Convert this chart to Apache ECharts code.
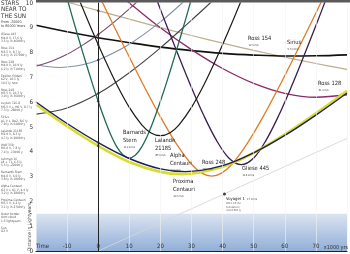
<!DOCTYPE html>
<html><head><meta charset="utf-8">
<script src="https://cdn.jsdelivr.net/npm/echarts@6/dist/echarts.min.js"></script>
<style>html,body{margin:0;padding:0;background:#fff}#c{width:350px;height:254px}</style>
</head><body><div id="c"></div>
<script>
// time in 1000 years, distance in light years
const xTicks = ['Time','-10','0','10','20','30','40','50','60','70','x1000 yrs'];
const sirius = [[-20,9.10],[-10,8.84],[0,8.60],[10,8.40],[20,8.22],[30,8.08],[40,7.97],[50,7.90],[60,7.86],[70,7.87],[80,7.91]];
const ross154 = [[-12,10.10],[-8,9.97],[0,9.69],[10,9.35],[20,9.01],[30,8.69],[40,8.38],[50,8.09],[60,7.82],[70,7.56],[80,7.32]];
const ross128 = [[5,10.48],[10,10.0],[20,9.0],[30,8.12],[40,7.36],[50,6.76],[60,6.36],[70,6.20],[80,6.30]];
const ross248 = [[0,10.38],[5,9.08],[10,7.82],[15,6.58],[20,5.41],[25,4.35],[30,3.50],[33.5,3.13],[36.5,3.02],[39.5,3.13],[43,3.50],[48,4.35],[53,5.41],[58,6.58],[63,7.82],[68,9.08],[73,10.38]];
const gliese445 = [[18,10.4],[22,9.09],[26,7.82],[30,6.59],[34,5.45],[38,4.47],[42,3.75],[46,3.48],[50,3.75],[54,4.47],[58,5.45],[62,6.59],[66,7.82],[70,9.09],[74,10.4]];
const barnard = [[-10,10.18],[-8,9.30],[-5,8.02],[-2,6.80],[0,6.04],[2,5.33],[4,4.70],[6,4.20],[8,3.87],[10,3.75],[12,3.87],[14,4.20],[16,4.70],[18,5.33],[20,6.04],[22,6.80],[25,8.02],[28,9.30],[30,10.18]];
const lalande = [[-6,10.1],[-2,8.9],[2,7.76],[6,6.70],[10,5.79],[14,5.09],[17,4.76],[20,4.65],[23,4.76],[26,5.09],[30,5.79],[34,6.70],[38,7.76],[42,8.9],[46,10.1]];
const alphaCen = [[-20,6.01],[-10,5.14],[0,4.37],[10,3.73],[20,3.31],[28,3.20],[40,3.44],[50,3.96],[60,4.66],[70,5.48],[80,6.37]];
const proxima = [[-20,5.91],[-10,5.03],[0,4.24],[10,3.59],[20,3.19],[27,3.10],[40,3.40],[50,3.96],[60,4.70],[70,5.55],[80,6.46]];
const wolf359 = [[-20,7.51],[-12.6,7.40],[-5,7.51],[0,7.70],[10,8.34],[20,9.24],[27,10.0],[30,10.35]];
const luyten = [[-20,7.45],[-15,7.65],[-10,7.93],[-5,8.30],[0,8.73],[5,9.22],[10,9.76],[15,10.35]];
const luhman = [[-20,5.52],[-10,5.77],[0,6.35],[10,7.19],[20,8.19],[30,9.31],[36,10.0],[40,10.5]];
const voyager = [[0,0],[40,2.27],[80,4.54]];
const voyagerNow = [[40.6,2.30]];
const today = [[0,9.69],[0,8.73],[0,8.60],[0,8.32],[0,7.70],[0,6.35],[0,6.04],[0,4.37],[0,4.24]];
const oortBorder = 1.5;

const legendEntries = [
 ['Gliese 445','M4.0 V, 17.6 ly','3.5 ly in 46000 y'],
 ['Ross 154','M3.5 V, 9.7 ly','6.4 ly in 157000 y'],
 ['Ross 128','M4.0 V, 10.9 ly','6.2 ly in 71000 y'],
 ['Epsilon Eridani','K2 V, 10.5 ly','10.5 ly now'],
 ['Ross 248','M5.5 V, 10.3 ly','3.0 ly in 36000 y'],
 ['Luyten 726-8','M5.5 V + M6 V, 8.7 ly','7.3 ly -28000 y'],
 ['Sirius','A1 V + DA2, 8.6 ly','7.9 ly in 64000 y'],
 ['Lalande 21185','M2.0 V, 8.3 ly','4.7 ly in 20000 y'],
 ['Wolf 359','M6.0 V, 7.8 ly','7.4 ly -13000 y'],
 ['Luhman 16','L8 + T1, 6.5 ly','5.5 ly -22000 y'],
 ['Barnards Stern','M4.0 V, 6.0 ly','3.8 ly in 10000 y'],
 ['Alpha Centauri','G2 V + K1 V, 4.4 ly','3.2 ly in 28000 y'],
 ['Proxima Centauri','M5.5 V, 4.2 ly','3.1 ly in 27000 y'],
 ['Outer border','Oort cloud','1.5 lightyears'],
 ['Sun','G2 V','']
];
const titleLines = ['STARS','NEAR TO','THE SUN'];
const subTitleLines = ['From -20000','to 80000 Years'];
const starLabels = [
 {name:['Ross 154'], sub:'12 km/s', at:[248,36]},
 {name:['Sirius'], sub:'5.5 km/s', at:[287,40]},
 {name:['Ross 128'], sub:'31 km/s', at:[318,81]},
 {name:['Barnards','Stern'], sub:'110 km/s', at:[123,130]},
 {name:['Lalande','21185'], sub:'85 km/s', at:[155,138]},
 {name:['Alpha','Centauri'], sub:'22 km/s', at:[170,153]},
 {name:['Proxima','Centauri'], sub:'22 km/s', at:[173,179]},
 {name:['Ross 248'], sub:'78 km/s', at:[202,160]},
 {name:['Gliese 445'], sub:'119 km/s', at:[242,166]}
];

const FONT = '"Liberation Sans Narrow","DejaVu Sans Condensed","Liberation Sans",sans-serif';
const chart = echarts.init(document.getElementById('c'), null, {renderer:'canvas'});

function line(name, data, color, width, z){
  return {name, type:'line', data, smooth:0.35, showSymbol:false, clip:true, z:z||3,
    lineStyle:{color, width}, emphasis:{disabled:true}, silent:true};
}

const graphic = [];
graphic.push({type:'rect', shape:{x:36,y:0,width:314,height:2.5}, style:{fill:'#5a5a5a'}, z:50});
titleLines.forEach((t,i)=>graphic.push({type:'text', x:1, y:0+i*6.6, style:{text:t, font:'6.3px '+FONT, fill:'#333'}}));
subTitleLines.forEach((t,i)=>graphic.push({type:'text', x:1, y:20.5+i*3.8, style:{text:t, font:'3.6px '+FONT, fill:'#444'}}));
legendEntries.forEach((e,i)=>{
  e.forEach((t,j)=>{ if(t) graphic.push({type:'text', x:1, y:33+i*13.8+j*3.4, style:{text:t, font:'3.2px '+FONT, fill:'#555'}}); });
});
graphic.push({type:'text', x:27, y:251, rotation:Math.PI/2, style:{text:'Distance in Lightyears', font:'4.8px '+FONT, fill:'#444'}});
graphic.push({type:'text', x:348, y:250.5, z:60, style:{text:xTicks[xTicks.length-1], font:'5.4px '+FONT, fill:'#333', textAlign:'right', align:'right', textVerticalAlign:'bottom', verticalAlign:'bottom'}});
starLabels.forEach(s=>{
  s.name.forEach((t,j)=>graphic.push({type:'text', x:s.at[0], y:s.at[1]+j*7.4, style:{text:t, font:'5.7px '+FONT, fill:'#222'}, z:60}));
  graphic.push({type:'text', x:s.at[0]+0.5, y:s.at[1]+s.name.length*7.4+0.5, style:{text:s.sub, font:'2.8px '+FONT, fill:'#444'}, z:60});
});
graphic.push({type:'text', x:226, y:196.5, style:{text:'Voyager 1', font:'4.2px '+FONT, fill:'#222'}, z:60});
graphic.push({type:'text', x:247, y:197.5, style:{text:'17 km/s', font:'2.8px '+FONT, fill:'#444'}, z:60});
['2012 left the','heliosphere,','now 0.002 ly'].forEach((t,i)=>graphic.push({type:'text', x:226, y:202+i*3.4, style:{text:t, font:'2.6px '+FONT, fill:'#555'}, z:60}));

const option = {
  animation:false,
  grid:{left:36, right:3, top:2, bottom:2, containLabel:false},
  xAxis:{type:'value', min:-20, max:80, interval:10, z:20,
    axisLine:{show:true, onZero:false, lineStyle:{color:'#222', width:1.2}},
    axisTick:{show:false},
    splitLine:{show:true, lineStyle:{color:'#f1f1f1', width:0.6}},
    axisLabel:{inside:true, margin:1.5, fontSize:6, fontFamily:FONT, color:'#333',
      showMinLabel:true, showMaxLabel:false,
      alignMinLabel:'left',
      formatter:(v)=>(v>=80?'':xTicks[Math.round((v+20)/10)])}},
  yAxis:{type:'value', min:0, max:10, interval:1, z:20,
    axisLine:{show:true, lineStyle:{color:'#222', width:1}},
    axisTick:{show:false}, splitLine:{show:false},
    axisLabel:{margin:3, fontSize:6.3, fontFamily:FONT, color:'#333'}},
  graphic,
  series:[
    {type:'line', data:[], silent:true, z:1,
      markArea:{silent:true, itemStyle:{color:{type:'linear',x:0,y:0,x2:0,y2:1,
        colorStops:[{offset:0,color:'#dbe4f1'},{offset:1,color:'#92afd8'}]}},
        data:[[{yAxis:0},{yAxis:oortBorder}]]},
      markLine:{silent:true, symbol:'none', label:{show:false},
        lineStyle:{color:'#d23c3c', width:1, type:'solid'}, data:[{xAxis:0}]}},
    line('Voyager 1', voyager, '#d6d6d6', 0.9, 2),
    line('Ross 154', ross154, '#bfae8a', 1.2),
    line('Sirius', sirius, '#111111', 1.6),
    line('Ross 128', ross128, '#8c2a66', 1.3),
    line('Wolf 359', wolf359, '#8391a8', 1.1),
    line('Luyten 726-8', luyten, '#7a4a6a', 1.1),
    line('Luhman 16', luhman, '#444444', 1.1),
    line('Ross 248', ross248, '#e07b26', 1.3),
    line('Gliese 445', gliese445, '#3b1f4f', 1.3),
    line('Barnards Stern', barnard, '#1f6b55', 1.3),
    line('Lalande 21185', lalande, '#1a1a1a', 1.2),
    line('Proxima Centauri', proxima, '#d9dc2a', 2.6),
    line('Alpha Centauri', alphaCen, '#1b1f5e', 1.4),
    {type:'scatter', data:today, symbolSize:2.5, itemStyle:{color:'#8a1010'}, silent:true, z:8},
    {type:'scatter', data:voyagerNow, symbolSize:3, itemStyle:{color:'#111'}, silent:true, z:8}
  ]
};
chart.setOption(option);
</script></body></html>
